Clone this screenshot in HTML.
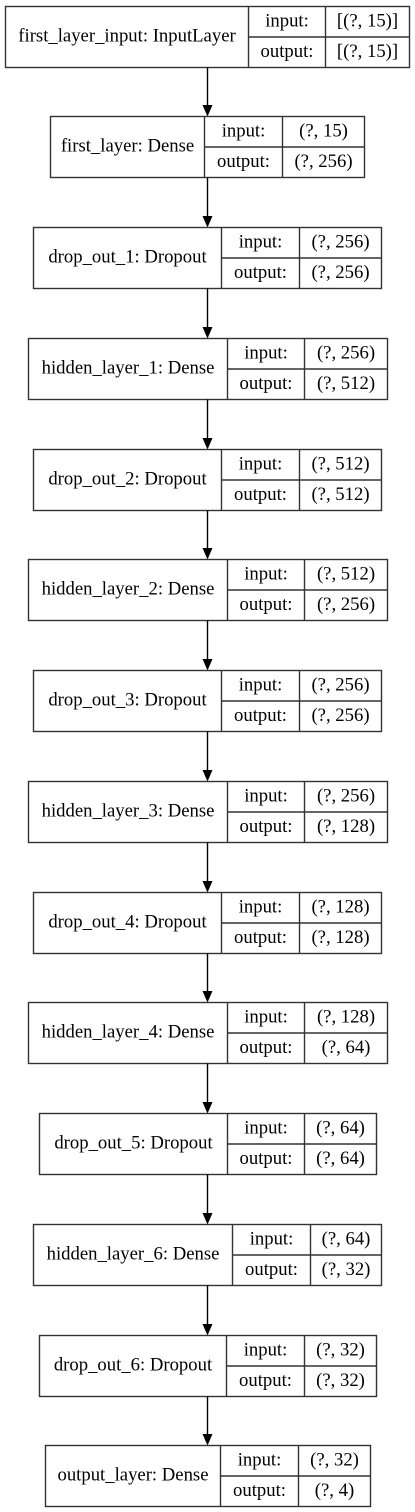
<!DOCTYPE html>
<html><head><meta charset="utf-8"><style>
html,body{margin:0;padding:0;background:#fff;width:415px;height:1512px;overflow:hidden}
svg text{font-family:"Liberation Serif",serif;font-size:18.7px;fill:#000}
</style></head><body>
<svg id="g" width="415" height="1512" viewBox="0 0 415 1512" xmlns="http://www.w3.org/2000/svg"></svg>
<script>
const layerNames=["first_layer_input: InputLayer","first_layer: Dense","drop_out_1: Dropout","hidden_layer_1: Dense","drop_out_2: Dropout","hidden_layer_2: Dense","drop_out_3: Dropout","hidden_layer_3: Dense","drop_out_4: Dropout","hidden_layer_4: Dense","drop_out_5: Dropout","hidden_layer_6: Dense","drop_out_6: Dropout","output_layer: Dense"];
const inputShapes=["[(?, 15)]","(?, 15)","(?, 256)","(?, 256)","(?, 512)","(?, 512)","(?, 256)","(?, 256)","(?, 128)","(?, 128)","(?, 64)","(?, 64)","(?, 32)","(?, 32)"];
const outputShapes=["[(?, 15)]","(?, 256)","(?, 256)","(?, 512)","(?, 512)","(?, 256)","(?, 256)","(?, 128)","(?, 128)","(?, 64)","(?, 64)","(?, 32)","(?, 32)","(?, 4)"];
const boxLeft=[5,50,33,28,33,28,33,28,33,28,39,33,39,45];
const div1=[248,204,221,227,221,227,221,227,221,227,227,232,226,220];
const div2=[325,282,299,304,299,304,299,304,299,304,304,310,304,298];
const boxRight=[409,364,381,387,381,387,381,387,381,387,376,381,376,370];
const NS="http://www.w3.org/2000/svg";
const svg=document.getElementById('g');
const H=61, pitch=110.75, top0=5.5, cx=207;
function mk(tag,attrs,parent){const e=document.createElementNS(NS,tag);for(const k in attrs)e.setAttribute(k,attrs[k]);(parent||svg).appendChild(e);return e;}
function txt(x,y,s,parent){const t=mk('text',{x:x,y:y,'text-anchor':'middle','dominant-baseline':'central'},parent);t.textContent=s;return t;}
for(let i=0;i<layerNames.length;i++){
  const y=Math.round(top0+i*pitch)+0.5, x0=boxLeft[i]+0.5, x1=boxRight[i]+0.5, d1=div1[i]+0.5, d2=div2[i]+0.5, my=y+H/2;
  const g=mk('g',{});
  
  
  const st={fill:'none',stroke:'#333','stroke-width':1.4};
  mk('rect',Object.assign({x:x0,y:y,width:x1-x0,height:H},st),g);
  mk('line',Object.assign({x1:d1,y1:y,x2:d1,y2:y+H},st),g);
  mk('line',Object.assign({x1:d2,y1:y,x2:d2,y2:y+H},st),g);
  mk('line',Object.assign({x1:d1,y1:my,x2:x1,y2:my},st),g);
  const l=txt((x0+d1)/2,my-1,layerNames[i],g);
  
  
  txt((d1+d2)/2,y+H/4-1,'input:',g);
  txt((d1+d2)/2,y+3*H/4-1,'output:',g);
  const a=txt((d2+x1)/2,y+H/4-1,inputShapes[i],g);
  
  
  const b=txt((d2+x1)/2,y+3*H/4-1,outputShapes[i],g);
  
  
  if(i<layerNames.length-1){
    const ny=Math.round(top0+(i+1)*pitch);
    const ar=mk('g',{});
    
    
    mk('line',{x1:cx+0.5,y1:y+H,x2:cx+0.5,y2:ny-9,stroke:'#000','stroke-width':1.4},ar);
    mk('polygon',{points:(cx-4.5)+','+(ny-11)+' '+(cx+5.5)+','+(ny-11)+' '+(cx+0.5)+','+(ny+0.5),fill:'#000'},ar);
  }
}
</script>
</body></html>
